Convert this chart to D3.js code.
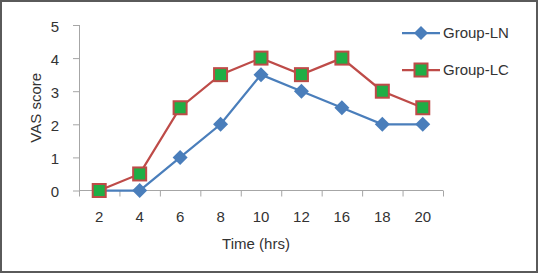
<!DOCTYPE html>
<html>
<head>
<meta charset="utf-8">
<script src="https://cdn.jsdelivr.net/npm/d3@7"></script>
<style>
  html, body { margin: 0; padding: 0; background: #fff; }
  svg { display: block; font-family: 'Liberation Sans', Arial, sans-serif; }
</style>
</head>
<body>
<div id="svg-container"></div>
<script>
const timeLabels = ['2', '4', '6', '8', '10', '12', '16', '18', '20']
const groupLN = [0, 0, 1, 2, 3.5, 3, 2.5, 2, 2]
const groupLC = [0, 0.5, 2.5, 3.5, 4, 3.5, 4, 3, 2.5]
const yTicks = [0, 1, 2, 3, 4, 5]

const width = 538
const height = 273
const plotLeft = 79
const plotRight = 443
const plotTop = 25
const plotBottom = 190.5
const fontSize = '15px'

const svg = d3
  .select('#svg-container')
  .append('svg')
  .attr('width', width)
  .attr('height', height)

// outer frame
svg
  .append('rect')
  .attr('x', 1)
  .attr('y', 1)
  .attr('width', width - 2)
  .attr('height', height - 2)
  .attr('fill', '#fff')
  .attr('stroke', '#5a5a5a')
  .attr('stroke-width', 2)

const xScale = d3.scaleBand().domain(timeLabels).range([plotLeft, plotRight])
const yScale = d3.scaleLinear().domain([0, 5]).range([plotBottom, plotTop])

const axisColor = '#a6a6a6'
const textColor = '#333'

// y axis
svg
  .append('g')
  .attr('transform', `translate(${plotLeft}, 0)`)
  .call(d3.axisLeft(yScale).tickValues(yTicks).tickSize(6).tickPadding(14).tickFormat(d3.format('d')))
  .call(g => {
    g.select('.domain').attr('stroke', axisColor).attr('d', `M0.5,${plotTop}V${plotBottom}`)
    g.selectAll('.tick line').attr('stroke', axisColor)
    g.selectAll('.tick text')
      .attr('fill', textColor)
      .attr('dy', '0.42em')
      .style('font-size', fontSize)
      .style('font-family', "'Liberation Sans', Arial, sans-serif")
  })

// x axis with ticks at band boundaries
const xAxisG = svg.append('g').attr('transform', `translate(0, ${plotBottom})`)
xAxisG
  .append('line')
  .attr('x1', plotLeft)
  .attr('x2', plotRight)
  .attr('stroke', axisColor)
xAxisG
  .selectAll('line.tick')
  .data(timeLabels.concat(['end']))
  .join('line')
  .attr('class', 'tick')
  .attr('x1', (d, i) => (i < timeLabels.length ? xScale(d) : plotRight) + 0.5)
  .attr('x2', (d, i) => (i < timeLabels.length ? xScale(d) : plotRight) + 0.5)
  .attr('y1', 0)
  .attr('y2', 6)
  .attr('stroke', axisColor)
xAxisG
  .selectAll('text')
  .data(timeLabels)
  .join('text')
  .attr('x', d => xScale(d) + xScale.bandwidth() / 2)
  .attr('y', 31.5)
  .attr('text-anchor', 'middle')
  .attr('fill', textColor)
  .style('font-size', fontSize)
  .text(d => d)

// axis titles
svg
  .append('text')
  .attr('x', 256)
  .attr('y', 249)
  .attr('text-anchor', 'middle')
  .attr('fill', textColor)
  .style('font-size', fontSize)
  .text('Time (hrs)')

svg
  .append('text')
  .attr('transform', `translate(41, ${(plotTop + plotBottom) / 2}) rotate(-90)`)
  .attr('text-anchor', 'middle')
  .attr('fill', textColor)
  .style('font-size', fontSize)
  .text('VAS score')

const cx = i => xScale(timeLabels[i]) + xScale.bandwidth() / 2
const line = d3
  .line()
  .x((d, i) => cx(i))
  .y(d => yScale(d))

const blue = '#4a7ebb'
const red = '#be4b48'
const green = '#1fae45'

// Group-LN
svg
  .append('path')
  .attr('d', line(groupLN))
  .attr('fill', 'none')
  .attr('stroke', blue)
  .attr('stroke-width', 2.25)

const diamond = s => `M0,${-s}L${s},0L0,${s}L${-s},0Z`

svg
  .selectAll('path.ln-marker')
  .data(groupLN)
  .join('path')
  .attr('class', 'ln-marker')
  .attr('transform', (d, i) => `translate(${cx(i)}, ${yScale(d)})`)
  .attr('d', diamond(7.5))
  .attr('fill', blue)

// Group-LC
svg
  .append('path')
  .attr('d', line(groupLC))
  .attr('fill', 'none')
  .attr('stroke', red)
  .attr('stroke-width', 2.25)

svg
  .selectAll('rect.lc-marker')
  .data(groupLC)
  .join('rect')
  .attr('class', 'lc-marker')
  .attr('x', (d, i) => cx(i) - 6.5)
  .attr('y', d => yScale(d) - 6.5)
  .attr('width', 13)
  .attr('height', 13)
  .attr('fill', green)
  .attr('stroke', red)
  .attr('stroke-width', 2)

// legend
const legendItems = [
  { label: 'Group-LN', color: blue, y: 33, shape: 'diamond' },
  { label: 'Group-LC', color: red, y: 70, shape: 'square' },
]
const legend = svg.append('g')
legendItems.forEach(item => {
  const g = legend.append('g').attr('transform', `translate(0, ${item.y})`)
  g.append('line')
    .attr('x1', 402)
    .attr('x2', 440)
    .attr('stroke', item.color)
    .attr('stroke-width', 2.25)
  if (item.shape === 'diamond') {
    g.append('path')
      .attr('transform', 'translate(421, 0)')
      .attr('d', diamond(7))
      .attr('fill', item.color)
  } else {
    g.append('rect')
      .attr('x', 414.5)
      .attr('y', -6.5)
      .attr('width', 13)
      .attr('height', 13)
      .attr('fill', green)
      .attr('stroke', red)
      .attr('stroke-width', 2)
  }
  g.append('text')
    .attr('x', 443)
    .attr('y', 0)
    .attr('dy', '0.35em')
    .attr('fill', textColor)
    .style('font-size', fontSize)
    .text(item.label)
})
</script>
</body>
</html>
